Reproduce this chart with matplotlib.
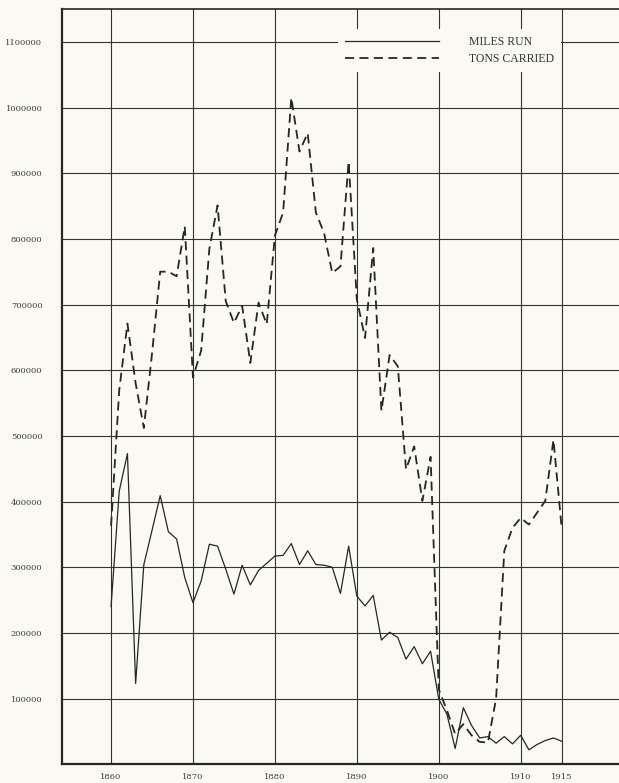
import matplotlib
matplotlib.use("Agg")
import matplotlib.pyplot as plt

# yearly values, 1860-1915
years = list(range(1860, 1916))

miles_run = [
    240000, 416000, 473000, 123000, 304000, 356000, 409000, 354000,
    343000, 284000, 246000, 279000, 335000, 332000, 297000, 259000, 303000,
    273000, 295000, 306000, 317000, 318000, 336000, 304000, 325000, 304000,
    303000, 300000, 260000, 332000, 256000, 241000, 257000, 189000, 201000,
    193000, 160000, 179000, 153000, 172000, 99000, 76000, 24000, 86000,
    59000, 40000, 42000, 32000, 42000, 31000, 44000, 22000, 30000, 36000,
    40000, 35000,
]

tons_carried = [
    363000, 570000, 671000, 580000, 512000, 625000, 750000, 750000, 743000,
    819000, 589000, 630000, 785000, 851000, 705000, 672000, 698000, 611000,
    703000, 670000, 805000, 840000, 1015000, 933000, 961000, 840000, 809000,
    748000, 758000, 918000, 708000, 649000, 786000, 538000, 623000, 606000,
    449000, 484000, 401000, 468000, 114000, 82000, 46000, 61000, 44000,
    34000, 33000, 100000, 325000, 360000, 375000, 365000, 383000, 401000,
    494000, 360000,
]

x_ticks = [1860, 1870, 1880, 1890, 1900, 1910, 1915]
y_ticks = list(range(100000, 1100001, 100000))

paper = "#fafaf2"
ink = "#262626"

fig = plt.figure(figsize=(6.19, 7.83), dpi=100, facecolor=paper)
ax = fig.add_axes([0.1, 0.024, 0.9, 0.9645], facecolor=paper)

ax.plot(years, miles_run, color=ink, lw=0.9, label="MILES RUN")
ax.plot(years, tons_carried, color=ink, lw=1.3, dashes=(5, 3),
        label="TONS CARRIED")

ax.set_xlim(1854, 1922)
ax.set_ylim(0, 1150000)
ax.set_xticks(x_ticks)
ax.set_yticks(y_ticks)
ax.set_xticklabels([str(t) for t in x_ticks])
ax.set_yticklabels([str(t) for t in y_ticks])
ax.tick_params(length=0, labelsize=6, colors="#3a3a3a")
ax.tick_params(axis="y", pad=14)
ax.tick_params(axis="x", pad=6)
for lab in ax.get_xticklabels() + ax.get_yticklabels():
    lab.set_fontfamily("DejaVu Serif")

ax.grid(True, color="#333333", lw=0.8)
ax.set_axisbelow(True)

ax.spines["right"].set_visible(False)
ax.spines["left"].set_linewidth(1.6)
ax.spines["bottom"].set_linewidth(1.6)
ax.spines["top"].set_linewidth(1.2)
for s in ax.spines.values():
    s.set_color(ink)

leg = ax.legend(loc="upper left", bbox_to_anchor=(0.4955, 0.9735),
                borderaxespad=0, borderpad=0.6, handlelength=8.0,
                handletextpad=2.5, labelspacing=0.45, frameon=True,
                fancybox=False, prop={"family": "Liberation Serif", "size": 8.5})
leg.get_frame().set_facecolor(paper)
leg.get_frame().set_edgecolor("none")
leg.get_frame().set_alpha(1)
for t in leg.get_texts():
    t.set_color("#333333")

fig.savefig("out.png", dpi=100, facecolor=paper)
